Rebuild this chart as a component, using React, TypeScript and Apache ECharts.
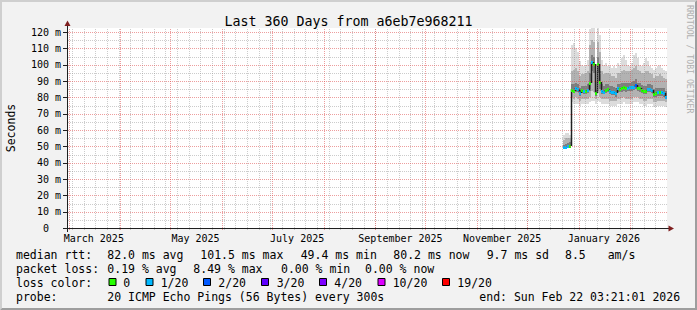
import React, { useEffect, useRef } from 'react';
import * as echarts from 'echarts';

const MONO = '"DejaVu Sans Mono", "Liberation Mono", monospace';

// ---------- layout ----------
const W = 697;
const H = 310;
const PLOT_LEFT = 67;
const PLOT_TOP = 28;
const PLOT_W = 600;
const PLOT_H = 200;

// ---------- texts ----------
const TITLE = 'Last 360 Days from a6eb7e968211';
const Y_AXIS_TITLE = 'Seconds';
const WATERMARK = 'RRDTOOL / TOBI OETIKER';

// ---------- time range ----------
const RANGE_START = Date.UTC(2025, 1, 27, 22, 0, 0);
const RANGE_DAYS = 360;
const DAY_MS = 86400000;
const CELL_DAYS = 1.2;
const Y_MAX = 122.45;

// ---------- axis ticks ----------
const yLabelValues = [0, 10, 20, 30, 40, 50, 60, 70, 80, 90, 100, 110, 120];
const yMinorValues = [5, 15, 25, 35, 45, 55, 65, 75, 85, 95, 105, 115];
const monthStarts = [
  '2025-03-01', '2025-04-01', '2025-05-01', '2025-06-01', '2025-07-01', '2025-08-01',
  '2025-09-01', '2025-10-01', '2025-11-01', '2025-12-01', '2026-01-01', '2026-02-01',
];
const FIRST_MONDAY = '2025-03-03';
const labelMonths = ['2025-03-01', '2025-05-01', '2025-07-01', '2025-09-01', '2025-11-01', '2026-01-01'];
const labelTexts = ['March 2025', 'May 2025', 'July 2025', 'September 2025', 'November 2025', 'January 2026'];
const LABEL_CENTER_SHIFT_DAYS = 15;

// ---------- data (days since range start, ms) ----------
const sampleDays = [
  297.4, 298.6, 299.8, 301.0, 302.2, 303.4, 304.6, 305.8, 307.0, 308.2, 309.4, 310.6, 311.8,
  313.0, 314.2, 315.4, 316.6, 317.8, 319.0, 320.2, 321.4, 322.6, 323.8, 325.0, 326.2, 327.4,
  328.6, 329.8, 331.0, 332.2, 333.4, 334.6, 335.8, 337.0, 338.2, 339.4, 340.6, 341.8, 343.0,
  344.2, 345.4, 346.6, 347.8, 349.0, 350.2, 351.4, 352.6, 353.8, 355.0, 356.2, 357.4, 358.6,
];
const medianMs = [
  49.4, 49.6, 50.0, 50.3, 84.5, 84.0, 85.5, 85.0, 82.5, 84.5, 84.0, 84.0, 84.5,
  88.5, 101.5, 100.5, 82.5, 100.2, 89.5, 84.0, 83.5, 84.5, 85.0, 84.0, 83.5, 83.5,
  82.5, 85.5, 85.0, 85.5, 86.5, 85.5, 86.0, 86.3, 86.3, 86.5, 87.5, 86.0, 85.5,
  84.5, 84.0, 84.0, 85.0, 85.0, 84.5, 82.0, 82.5, 83.0, 83.0, 83.0, 82.5, 80.2,
];
// index into lossColors
const lossIdx = [
  1, 1, 1, 0, 0, 0, 1, 1, 1, 0, 1, 0, 1,
  0, 1, 0, 0, 0, 0, 1, 1, 0, 0, 1, 1, 1,
  1, 1, 0, 0, 0, 0, 1, 1, 1, 1, 2, 0, 0,
  0, 0, 0, 1, 1, 1, 0, 0, 1, 0, 1, 1, 1,
];
const smokeMin = [
  48.5, 48.5, 48.8, 49.0, 77, 76, 76, 76, 75, 76, 76, 76, 76,
  77, 78, 78, 76, 78, 77, 76, 76, 76, 76, 75, 75, 75,
  75, 76, 76, 76, 77, 76, 76, 76, 76, 77, 77, 77, 76,
  76, 75, 75, 76, 76, 76, 74, 74, 75, 75, 75, 75, 74,
];
const smokeP10 = [
  49.0, 49.0, 49.3, 49.5, 80, 79, 80, 79, 78, 79, 79, 79, 79,
  80, 84, 83, 79, 84, 80, 79, 79, 79, 79, 78, 78, 78,
  78, 79, 79, 79.5, 80, 79, 79, 79, 79, 80, 80, 80, 79,
  79, 78, 78, 79, 79, 79, 77, 77, 78, 78, 78, 78, 77,
];
const smokeP25 = [
  49.3, 49.4, 49.7, 50.0, 83, 82.5, 83.5, 83, 81, 82.5, 82, 82, 82.5,
  84, 96, 95, 81, 95, 85, 82, 82, 82.5, 83, 82, 81.5, 81.5,
  80.5, 83, 83, 83.5, 84, 83.5, 84, 84, 84, 84.5, 85, 84, 83.5,
  82.5, 82, 82, 83, 83, 82.5, 80, 80.5, 81, 81, 81, 80.5, 79,
];
const smokeP75 = [
  51.0, 51.5, 52.0, 52.5, 88, 88, 89, 88, 86, 87, 87, 87, 88,
  95, 106, 105, 85, 105, 96, 88, 87, 88, 88, 87, 87, 86.5,
  86, 88, 88, 88.5, 89, 88.5, 89, 89, 89.5, 90, 91, 89, 88.5,
  87.5, 87, 87, 88, 88, 87.5, 85, 85.5, 86, 86, 86, 85.5, 84,
];
const smokeP90 = [
  54, 55, 55, 55, 96, 97, 98, 96, 93, 94, 94, 95, 96,
  112, 115, 114, 90, 114, 108, 96, 94, 95, 95, 94, 93, 93,
  92, 95, 95, 96, 97, 96, 96, 96, 97, 98, 99, 97, 96,
  95, 95, 96, 96, 95, 94, 92, 93, 93, 94, 93, 92, 91,
];
const smokeMax = [
  57, 58, 58, 57, 112, 113, 110, 108, 102, 100, 99, 100, 103,
  122, 122.4, 122.4, 96, 122.4, 118, 103, 100, 101, 99, 99, 98, 99,
  98, 101, 100, 104, 106, 103, 100, 99, 101, 106, 107, 104, 100,
  99, 101, 104, 102, 99, 98, 97, 98, 99, 100, 98, 97, 96,
];

// ---------- legend ----------
const lossColors = ['#26ff00', '#00b8ff', '#0059ff', '#5e00ff', '#7e00ff', '#dd00ff', '#ff0000'];
const lossLabels = ['0', '1/20', '2/20', '3/20', '4/20', '10/20', '19/20'];
const lossBoxX = [108.5, 145.5, 203, 261, 319, 377.5, 442];
const lossLabelX = [123.3, 160.7, 218.3, 276.7, 334.3, 392.7, 457.3];
const legendRows: { y: number; items: [string, number][] }[] = [
  {
    y: 254.8,
    items: [
      ['median rtt:', 16], ['82.0 ms avg', 107.3], ['101.5 ms max', 200.3], ['49.4 ms min', 300.7],
      ['80.2 ms now', 393.3], ['9.7 ms sd', 486.7], ['8.5', 565], ['am/s', 607.7],
    ],
  },
  {
    y: 268.7,
    items: [
      ['packet loss:', 16], ['0.19 % avg', 107.3], ['8.49 % max', 193.3], ['0.00 % min', 281], ['0.00 % now', 365],
    ],
  },
  { y: 282.6, items: [['loss color:', 16]] },
  {
    y: 296.5,
    items: [
      ['probe:', 16], ['20 ICMP Echo Pings (56 Bytes) every 300s', 107.3], ['end: Sun Feb 22 03:21:01 2026', 479.3],
    ],
  },
];

const smokeColors = ['#dcdcdc', '#b2b2b2', '#7e7e7e'];
const MINOR = 'rgba(143,143,143,0.45)';
const MAJOR = 'rgba(222,79,79,0.55)';
const AXIS = '#1f1f1f';
const ARROW = '#7f1f1f';

function dayOf(iso: string): number {
  return (Date.parse(iso + 'T00:00:00Z') - RANGE_START) / DAY_MS;
}

function buildOption() {
  const monthDays = monthStarts.map(dayOf).filter((d) => d > 0 && d < RANGE_DAYS);
  const weekDays: number[] = [];
  for (let t = Date.parse(FIRST_MONDAY + 'T00:00:00Z'); (t - RANGE_START) / DAY_MS < RANGE_DAYS; t += 7 * DAY_MS) {
    weekDays.push((t - RANGE_START) / DAY_MS);
  }
  const labelDays = labelMonths.map((m) => dayOf(m) + LABEL_CENTER_SHIFT_DAYS);

  const vGrid: number[][] = [
    ...weekDays.map((d) => [d, 0]),
    ...monthDays.map((d) => [d, 1]),
  ];
  const hGrid: number[][] = [
    ...yMinorValues.map((v) => [v, 0]),
    ...yLabelValues.filter((v) => v > 0).map((v) => [v, 1]),
  ];

  const smokeData: number[][] = [];
  sampleDays.forEach((d, i) => {
    smokeData.push([d, smokeMin[i], smokeMax[i], 0]);
    smokeData.push([d, smokeP10[i], smokeP90[i], 1]);
    smokeData.push([d, smokeP25[i], smokeP75[i], 2]);
  });
  const medianData = sampleDays.map((d, i) => [d, medianMs[i], lossIdx[i], i]);

  const text = (t: string, x: number, y: number, size: number, extra: any = {}) => ({
    type: 'text',
    x,
    y,
    z: 100,
    silent: true,
    ...extra,
    style: {
      text: t,
      fontFamily: MONO,
      fontSize: size,
      fill: extra.fill || '#000',
      align: extra.align || 'left',
      verticalAlign: 'middle',
    },
  });

  const graphics: any[] = [];
  // 3d border
  graphics.push({
    type: 'polygon', z: 100, silent: true,
    shape: { points: [[0, H], [2, H - 2], [2, 2], [W - 2, 2], [W, 0], [0, 0]] },
    style: { fill: '#cfcfcf' },
  });
  graphics.push({
    type: 'polygon', z: 100, silent: true,
    shape: { points: [[0, H], [2, H - 2], [W - 2, H - 2], [W - 2, 2], [W, 0], [W, H]] },
    style: { fill: '#9e9e9e' },
  });
  // axes
  const bottom = PLOT_TOP + PLOT_H;
  graphics.push({
    type: 'line', z: 100, silent: true,
    shape: { x1: PLOT_LEFT + 0.5, y1: bottom + 4, x2: PLOT_LEFT + 0.5, y2: PLOT_TOP - 3 },
    style: { stroke: AXIS, lineWidth: 1 },
  });
  graphics.push({
    type: 'line', z: 100, silent: true,
    shape: { x1: PLOT_LEFT - 4, y1: bottom + 0.5, x2: PLOT_LEFT + PLOT_W + 2, y2: bottom + 0.5 },
    style: { stroke: AXIS, lineWidth: 1 },
  });
  graphics.push({
    type: 'polygon', z: 101, silent: true,
    shape: { points: [[PLOT_LEFT - 2.5, PLOT_TOP - 2], [PLOT_LEFT + 3.5, PLOT_TOP - 2], [PLOT_LEFT + 0.5, PLOT_TOP - 7.5]] },
    style: { fill: ARROW },
  });
  graphics.push({
    type: 'polygon', z: 101, silent: true,
    shape: { points: [[PLOT_LEFT + PLOT_W + 1.5, bottom - 2.5], [PLOT_LEFT + PLOT_W + 1.5, bottom + 3.5], [PLOT_LEFT + PLOT_W + 7, bottom + 0.5]] },
    style: { fill: ARROW },
  });
  // title, axis title, watermark
  graphics.push(text(TITLE, 348.5, 21, 13.3, { align: 'center' }));
  graphics.push(text(Y_AXIS_TITLE, 10.5, 128, 11.5, { align: 'center', rotation: Math.PI / 2 }));
  graphics.push(text(WATERMARK, 689.5, 5, 8.2, { rotation: -Math.PI / 2, fill: '#b0b0b0' }));
  // legend
  legendRows.forEach((row) => {
    row.items.forEach(([t, x]) => graphics.push(text(t, x, row.y, 11.5)));
  });
  lossColors.forEach((c, i) => {
    graphics.push({
      type: 'rect', z: 100, silent: true,
      shape: { x: lossBoxX[i] + 0.5, y: 278.5, width: 7, height: 7 },
      style: { fill: c, stroke: '#000', lineWidth: 1 },
    });
    graphics.push(text(lossLabels[i], lossLabelX[i], legendRows[2].y, 11.5));
  });

  return {
    animation: false,
    backgroundColor: '#f2f2f2',
    grid: {
      left: PLOT_LEFT, top: PLOT_TOP, width: PLOT_W, height: PLOT_H,
      show: true, backgroundColor: '#ffffff', borderWidth: 0, containLabel: false, outerBoundsMode: 'none',
    },
    xAxis: {
      type: 'value', min: 0, max: RANGE_DAYS,
      axisLine: { show: false }, axisTick: { show: false }, splitLine: { show: false },
      axisLabel: {
        customValues: labelDays,
        margin: 5,
        color: '#000',
        fontFamily: MONO,
        fontSize: 10,
        formatter: (v: number) => {
          const k = labelDays.findIndex((d) => Math.abs(d - v) < 0.01);
          return k >= 0 ? labelTexts[k] : '';
        },
      },
    },
    yAxis: {
      type: 'value', min: 0, max: Y_MAX,
      axisLine: { show: false }, axisTick: { show: false }, splitLine: { show: false },
      axisLabel: {
        customValues: yLabelValues,
        margin: 6,
        color: '#000',
        fontFamily: MONO,
        fontSize: 10,
        formatter: (v: number) => (v === 0 ? '{z|0}' : `${v} m`),
        rich: { z: { fontFamily: MONO, fontSize: 10, color: '#000', padding: [0, 12, 0, 0] } },
      },
    },
    series: [
      {
        type: 'custom', name: 'smoke', z: 2, silent: true, clip: true,
        encode: { x: 0, y: 1 },
        data: smokeData,
        renderItem: (_p: any, api: any) => {
          const d = api.value(0), lo = api.value(1), hi = api.value(2), b = api.value(3);
          const p0 = api.coord([d, lo]);
          const p1 = api.coord([d + CELL_DAYS, hi]);
          const x0 = Math.round(p0[0]), x1 = Math.round(p1[0]);
          const y0 = Math.round(p0[1]), y1 = Math.round(p1[1]);
          return {
            type: 'rect',
            shape: { x: x0, y: y1, width: x1 - x0, height: Math.max(1, y0 - y1) },
            style: { fill: smokeColors[b] },
          };
        },
      },
      {
        type: 'custom', name: 'median', z: 3, silent: true, clip: true,
        encode: { x: 0, y: 1 },
        data: medianData,
        renderItem: (_p: any, api: any) => {
          const d = api.value(0), med = api.value(1), loss = api.value(2), i = api.value(3);
          const p0 = api.coord([d, med]);
          const p1 = api.coord([d + CELL_DAYS, med]);
          const x0 = Math.round(p0[0]), x1 = Math.round(p1[0]), y = Math.round(p0[1]);
          const children: any[] = [];
          if (i > 0 && Math.abs(sampleDays[i - 1] + CELL_DAYS - d) < 0.01) {
            const py = Math.round(api.coord([d, medianMs[i - 1]])[1]);
            children.push({
              type: 'line',
              shape: { x1: x0 + 0.5, y1: py, x2: x0 + 0.5, y2: y },
              style: { stroke: '#202020', lineWidth: 1.5 },
            });
          }
          children.push({
            type: 'rect',
            shape: { x: x0, y: y - 1, width: x1 - x0, height: 3 },
            style: { fill: lossColors[loss] },
          });
          return { type: 'group', children };
        },
      },
      {
        type: 'custom', name: 'vgrid', z: 4, silent: true, clip: false,
        encode: { x: 0 },
        data: vGrid,
        renderItem: (_p: any, api: any) => {
          const v = api.value(0), kind = api.value(1);
          const b = api.coord([v, 0]);
          const t = api.coord([v, Y_MAX]);
          const x = Math.round(b[0]) + 0.5;
          return {
            type: 'line',
            shape: { x1: x, y1: b[1] + 2, x2: x, y2: t[1] },
            style: { stroke: kind ? MAJOR : MINOR, lineWidth: 1, lineDash: [1, 1] },
          };
        },
      },
      {
        type: 'custom', name: 'hgrid', z: 4, silent: true, clip: false,
        encode: { y: 0 },
        data: hGrid,
        renderItem: (_p: any, api: any) => {
          const v = api.value(0), kind = api.value(1);
          const l = api.coord([0, v]);
          const r = api.coord([RANGE_DAYS, v]);
          const y = Math.round(l[1]) + 0.5;
          const children: any[] = [
            {
              type: 'line',
              shape: { x1: l[0] + 1, y1: y, x2: r[0], y2: y },
              style: { stroke: kind ? MAJOR : MINOR, lineWidth: 1, lineDash: [1, 1] },
            },
          ];
          if (kind) {
            children.push({
              type: 'line',
              shape: { x1: l[0] - 4, y1: y, x2: l[0], y2: y },
              style: { stroke: AXIS, lineWidth: 1 },
            });
          }
          return { type: 'group', children };
        },
      },
    ],
    graphic: graphics,
  };
}

export default function App() {
  const ref = useRef<HTMLDivElement>(null);
  useEffect(() => {
    document.body.style.margin = '0';
    const chart = echarts.init(ref.current!, null, { renderer: 'svg' });
    chart.setOption(buildOption() as any);
    return () => chart.dispose();
  }, []);
  return <div ref={ref} style={{ width: W, height: H }} />;
}
